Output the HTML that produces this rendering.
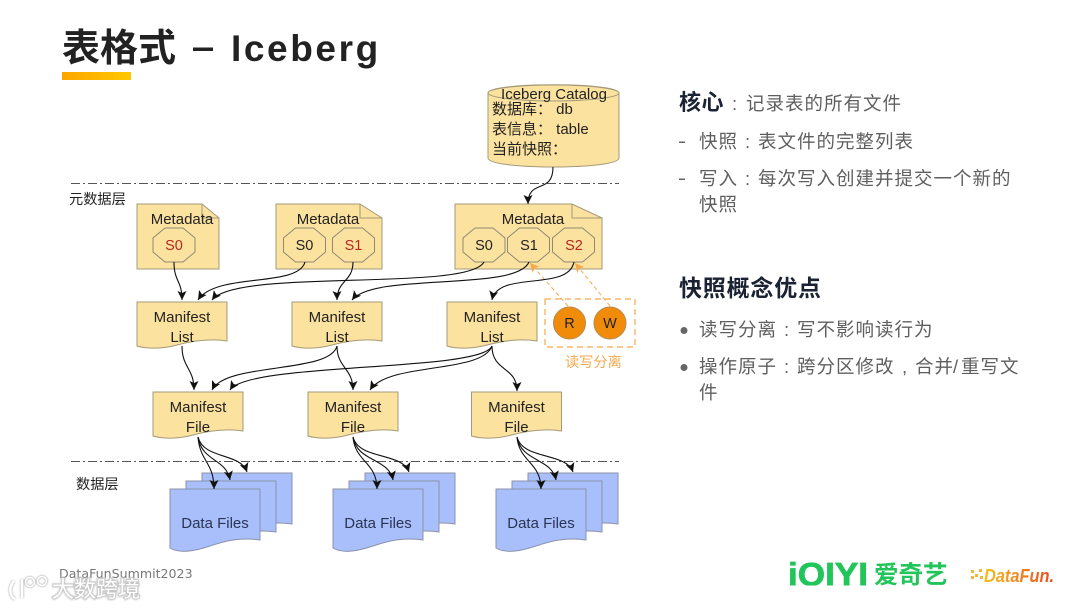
<!DOCTYPE html>
<html><head><meta charset="utf-8"><style>
html,body{margin:0;padding:0;background:#fff}
svg{display:block;filter:blur(.3px)}
text{font-family:"Liberation Sans","Noto Sans CJK SC",sans-serif}
.d{font-size:15px;fill:#222}
.c{text-anchor:middle}
.b{font-size:15px;fill:#2a3553}
.t{font-size:18.500px;fill:#5f5f5f;letter-spacing:1px}
.h{font-weight:700;fill:#1a2233}
.l{fill:none;stroke:#111;stroke-width:1.100;marker-end:url(#a)}
.o{fill:none;stroke:#f5a94e;stroke-width:1;stroke-dasharray:4 3;marker-end:url(#ao)}
.y{fill:#fce29f;stroke:#a59a78;stroke-width:1}
.f{fill:#a9bffb;stroke:#8b93a9;stroke-width:1}
.k{fill:#fce29f;stroke:#8f8a76;stroke-width:1}
</style></head><body>
<svg width="1080" height="608" viewBox="0 0 1080 608" xmlns="http://www.w3.org/2000/svg">
<defs>
<linearGradient id="g" x1="0" x2="1" y1="0" y2="0"><stop offset="0" stop-color="#fca500"/><stop offset="1" stop-color="#ffc800"/></linearGradient>
<linearGradient id="g2" x1="0" x2="1" y1="0" y2="0"><stop offset="0" stop-color="#f5c020"/><stop offset="1" stop-color="#ee4a20"/></linearGradient>
<clipPath id="qc"><rect x="780" y="555" width="95" height="30.500"/></clipPath>
<filter id="wm" x="-20%" y="-30%" width="140%" height="160%"><feGaussianBlur stdDeviation="0.700"/></filter>
<marker id="a" markerUnits="userSpaceOnUse" markerWidth="12" markerHeight="12" refX="9" refY="4.500" orient="auto"><path d="M0 0L9 4.500L0 9L2 4.500Z" fill="#111"/></marker>
<marker id="ao" markerUnits="userSpaceOnUse" markerWidth="12" markerHeight="12" refX="9" refY="4.500" orient="auto"><path d="M0 0L9 4.500L0 9L2 4.500Z" fill="#f5a94e"/></marker>
<path id="oct" d="M-9 -17H9L21 -7V7L9 17H-9L-21 7V-7Z" class="k"/>
<path id="w" d="M0 0H90V39C72 36 55 39 40 43C25 47 10 47 0 44Z" class="y"/>
<path id="df" d="M0 0H90V51C70 48 55 52 40 57C25 62 10 65 0 59Z" class="f"/>
<g id="stack">
<use href="#df" x="32" y="-16"/><use href="#df" x="16" y="-8"/><use href="#df"/>
</g>
</defs>

<text x="62" y="61" font-size="38" font-weight="700" fill="#222">表格式</text>
<rect x="193" y="47.500" width="20" height="3.500" fill="#222"/>
<text x="231" y="61" font-size="37" font-weight="700" fill="#222" letter-spacing="2.600">Iceberg</text>
<rect x="62" y="72" width="69" height="8" fill="url(#g)"/>

<path d="M71 183.500H619M71 461.500H619" stroke="#555" stroke-width="1" stroke-dasharray="9 3 2 3" fill="none"/>
<text x="69" y="204" font-size="14.200" fill="#222">元数据层</text>
<text x="76" y="489" font-size="14.200" fill="#222">数据层</text>

<!-- Catalog -->
<path d="M488 93C488 82 619 82 619 93V158C619 170 488 170 488 158Z" class="y"/>
<ellipse cx="553.500" cy="93" rx="65.500" ry="8" class="y"/>
<text class="d c" x="554" y="99">Iceberg Catalog</text>
<text class="d" x="492" y="114" style="font-size:15px">数据库： db</text>
<text class="d" x="492" y="134" style="font-size:15px">表信息： table</text>
<text class="d" x="492" y="154" style="font-size:15px">当前快照：</text>

<!-- Metadata -->
<path d="M137 204H202L219 218V269H137Z" class="y"/><path d="M202 204V218H219" class="y" style="fill:none"/>
<path d="M276 204H360L382 218V269H276Z" class="y"/><path d="M360 204V218H382" class="y" style="fill:none"/>
<path d="M455 204H572L602 218V269H455Z" class="y"/><path d="M572 204V218H602" class="y" style="fill:none"/>
<text class="d c" x="182" y="224">Metadata</text>
<text class="d c" x="328" y="224">Metadata</text>
<text class="d c" x="533" y="224">Metadata</text>
<use href="#oct" x="174" y="245"/><use href="#oct" x="304.500" y="245"/><use href="#oct" x="353.500" y="245"/>
<use href="#oct" x="484" y="245"/><use href="#oct" x="528.500" y="245"/><use href="#oct" x="573.500" y="245"/>
<g font-size="14.500" text-anchor="middle">
<text x="174" y="250" fill="#b5281e">S0</text>
<text x="304.500" y="250" fill="#222">S0</text>
<text x="353.500" y="250" fill="#b5281e">S1</text>
<text x="484" y="250" fill="#222">S0</text>
<text x="529" y="250" fill="#222">S1</text>
<text x="574" y="250" fill="#b5281e">S2</text>
</g>

<!-- Manifest lists & files -->
<use href="#w" x="137" y="302"/><use href="#w" x="292" y="302"/><use href="#w" x="447" y="302"/>
<use href="#w" x="153" y="392"/><use href="#w" x="308" y="392"/><use href="#w" x="471.500" y="392"/>
<text class="d c" x="182" y="322">Manifest</text><text class="d c" x="182" y="342">List</text>
<text class="d c" x="337" y="322">Manifest</text><text class="d c" x="337" y="342">List</text>
<text class="d c" x="492" y="322">Manifest</text><text class="d c" x="492" y="342">List</text>
<text class="d c" x="198" y="412">Manifest</text><text class="d c" x="198" y="432">File</text>
<text class="d c" x="353" y="412">Manifest</text><text class="d c" x="353" y="432">File</text>
<text class="d c" x="516.500" y="412">Manifest</text><text class="d c" x="516.500" y="432">File</text>

<!-- Data files -->
<use href="#stack" x="170" y="489"/><use href="#stack" x="333" y="489"/><use href="#stack" x="496" y="489"/>
<text class="b c" x="215" y="528">Data Files</text>
<text class="b c" x="378" y="528">Data Files</text>
<text class="b c" x="541" y="528">Data Files</text>

<!-- R / W -->
<rect x="545" y="299" width="90" height="48" fill="none" stroke="#f5a94e" stroke-width="1.200" stroke-dasharray="6 4"/>
<circle cx="569.500" cy="323" r="16" fill="#f08c0a" stroke="#b58a50"/>
<circle cx="610" cy="323" r="16" fill="#f08c0a" stroke="#b58a50"/>
<text x="569.500" y="328" font-size="14.500" fill="#222" text-anchor="middle">R</text>
<text x="610" y="328" font-size="14.500" fill="#222" text-anchor="middle">W</text>
<text x="565" y="367" font-size="14.200" fill="#f5a94e">读写分离</text>
<path class="o" d="M568 306L530 263"/>
<path class="o" d="M610 306L575 263"/>

<!-- connectors -->
<path class="l" d="M553 167C553 195 528 178 528 204"/>
<path class="l" d="M174 262C174 282 182 280 182 300"/>
<path class="l" d="M305 262C298 288 216 272 198 300"/>
<path class="l" d="M353 262C353 282 337 280 337 300"/>
<path class="l" d="M484 262C468 292 236 268 212 300"/>
<path class="l" d="M529 262C516 292 374 272 352 300"/>
<path class="l" d="M574 262C568 292 498 270 492 300"/>

<path class="l" d="M182 346C182 368 194 368 194 390"/>
<path class="l" d="M337 346C330 374 226 362 212 390"/>
<path class="l" d="M337 346C337 368 353 368 353 390"/>
<path class="l" d="M492 346C482 372 248 362 230 390"/>
<path class="l" d="M492 346C482 374 388 362 370 390"/>
<path class="l" d="M492 346C492 372 517 366 517 391"/>

<path class="l" d="M198 437C200 462 214 462 214 489"/>
<path class="l" d="M198 437C202 462 226 458 230 480"/>
<path class="l" d="M198 437C204 460 240 452 247 472"/>
<path class="l" d="M353 437C355 462 377 462 377 489"/>
<path class="l" d="M353 437C357 462 389 458 393 480"/>
<path class="l" d="M353 437C359 460 402 452 409 472"/>
<path class="l" d="M517 437C519 462 541 462 541 489"/>
<path class="l" d="M517 437C521 462 552 458 556 480"/>
<path class="l" d="M517 437C523 460 566 452 573 472"/>

<!-- right text -->
<text x="679" y="110" font-size="22" class="h" letter-spacing="0.500">核心</text>
<text x="732" y="110" class="t">:</text>
<text x="746" y="110" class="t">记录表的所有文件</text>

<rect x="679" y="141.500" width="6" height="1.500" fill="#666"/>
<text x="699" y="148" class="t">快照</text><text x="745" y="148" class="t">:</text><text x="758" y="148" class="t">表文件的完整列表</text>
<rect x="679" y="178.500" width="6" height="1.500" fill="#666"/>
<text x="699" y="185" class="t">写入</text><text x="745" y="185" class="t">:</text><text x="758" y="185" class="t">每次写入创建并提交一个新的</text>
<text x="699" y="211" class="t">快照</text>

<text x="679" y="296" font-size="23" class="h" letter-spacing="0.800">快照概念优点</text>

<circle cx="684" cy="330.500" r="3.500" fill="#666"/>
<text x="699" y="336" class="t">读写分离</text><text x="784" y="336" class="t">:</text><text x="797" y="336" class="t">写不影响读行为</text>
<circle cx="684" cy="367.500" r="3.500" fill="#666"/>
<text x="699" y="373" class="t">操作原子</text><text x="784" y="373" class="t">:</text><text x="797" y="373" class="t">跨分区修改</text><text x="902" y="373" class="t">,</text><text x="915" y="373" class="t">合并</text><text x="953" y="373" class="t">/</text><text x="961" y="373" class="t">重写文</text>
<text x="699" y="399" class="t">件</text>

<!-- footer -->
<text x="59" y="578" style="font-family:'DejaVu Sans',sans-serif" font-size="12.600" fill="#777">DataFunSummit2023</text>
<g filter="url(#wm)" fill="none" stroke="#c4c4c4" stroke-width="4">
<text x="52" y="597" font-size="22" fill="#c4c4c4" stroke-width="2.500">大数跨境</text>
<path d="M14 581C9 586 9 596 15 599M22 579V598"/>
<circle cx="30" cy="582" r="4.500" stroke-width="3"/><circle cx="42" cy="581" r="4.500" stroke-width="3"/>
</g>
<g fill="none" stroke="#fff">
<text x="52" y="597" font-size="22" fill="#fff" stroke="none">大数跨境</text>
<path d="M14 581C9 586 9 596 15 599M22 579V598" stroke-width="2.500"/>
<circle cx="30" cy="582" r="4.500" stroke-width="1.500"/><circle cx="42" cy="581" r="4.500" stroke-width="1.500"/>
</g>

<g clip-path="url(#qc)"><text x="788" y="585.500" font-size="32" font-weight="700" fill="#22c55a" stroke="#22c55a" stroke-width="0.700" textLength="80" lengthAdjust="spacingAndGlyphs">iQIYI</text></g>
<text x="874" y="583" font-size="24.500" font-weight="700" fill="#22c55a">爱奇艺</text>
<g fill="#f2b632"><rect x="971" y="570" width="3" height="3"/><rect x="975" y="574" width="3" height="3"/><rect x="971" y="576" width="3" height="3"/><rect x="979" y="569" width="3" height="3"/><rect x="980" y="576" width="3" height="3"/></g>
<text x="984" y="582" font-size="18" font-weight="700" font-style="italic" fill="url(#g2)" textLength="70" lengthAdjust="spacingAndGlyphs">DataFun.</text>
</svg>
</body></html>
